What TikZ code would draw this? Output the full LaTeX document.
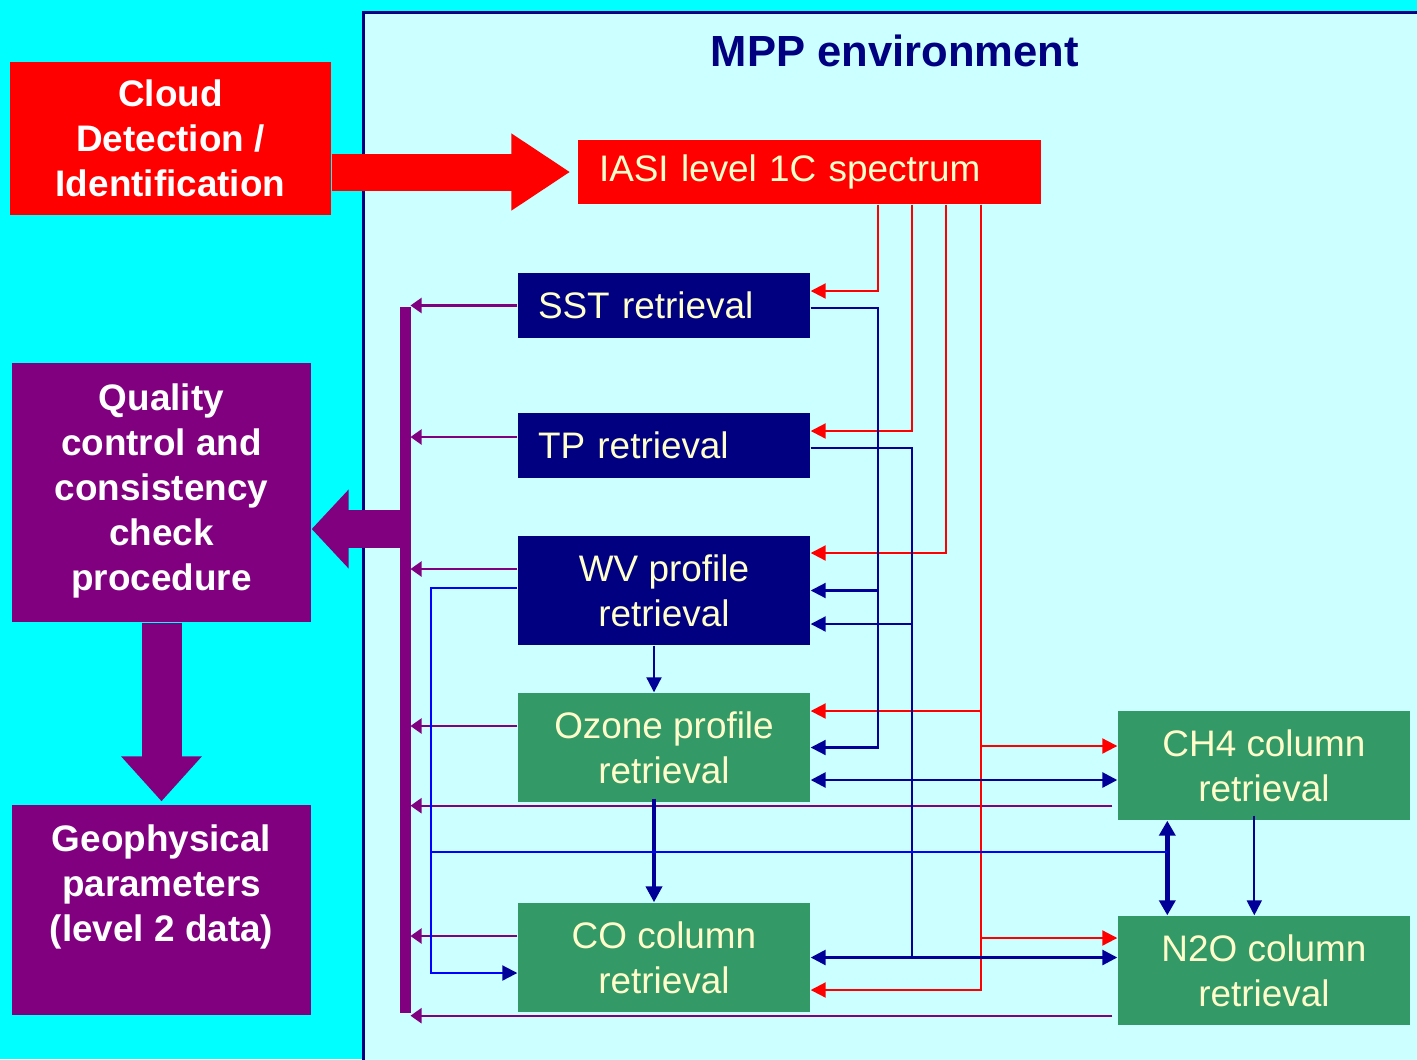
\documentclass[tikz,border=0pt]{standalone}
\usepackage{fontspec}
\setmainfont{Liberation Sans}
\usetikzlibrary{arrows.meta}
\definecolor{aqua}{HTML}{00FFFF}
\definecolor{paleaqua}{HTML}{CCFFFF}
\definecolor{navyblue}{HTML}{000080}
\definecolor{seagreen}{HTML}{339966}
\definecolor{plum}{HTML}{800080}
\definecolor{cream}{HTML}{FFFFCC}
\definecolor{linkblue}{HTML}{000099}
\definecolor{brightblue}{HTML}{0000FF}
\begin{document}
\begin{tikzpicture}[
    font=\fontsize{10.5}{12.8}\selectfont,
    navybox/.style={fill=navyblue, text=cream, minimum width=2.92cm, inner ysep=0pt},
    greenbox/.style={fill=seagreen, text=cream, minimum width=2.92cm, minimum height=1.09cm, align=center, inner sep=0pt},
    sidebox/.style={fill=plum, text=white, font=\fontsize{10.5}{12.8}\selectfont\bfseries, minimum width=2.99cm, align=center, inner sep=0pt},
    redlink/.style={red, line width=0.6pt, -{Triangle[length=0.15cm, width=0.15cm]}},
    bluelink/.style={linkblue, line width=0.6pt, -{Triangle[length=0.15cm, width=0.15cm]}},
    bluedouble/.style={linkblue, line width=0.8pt, {Triangle[length=0.15cm, width=0.15cm]}-{Triangle[length=0.15cm, width=0.15cm]}},
    plumlink/.style={plum, line width=0.6pt, -{Triangle[length=0.11cm, width=0.15cm]}},
    bigred/.style={red, line width=0.37cm, -{Triangle[length=0.59cm, width=0.73cm]}},
    bigplum/.style={plum, line width=0.38cm, -{Triangle[length=0.37cm, width=0.77cm]}}
]
\useasboundingbox (0,0) rectangle (14.17,-10.59);
\fill[aqua] (0,0) rectangle (14.17,-10.59);
\draw[navyblue, line width=0.03cm, fill=paleaqua] (3.63,-0.12) rectangle (14.5,-10.8);

\node[text=navyblue, font=\fontsize{12.4}{15}\selectfont\bfseries] (title) at (8.95,-0.51) {MPP environment};

\node[fill=red, text=white, font=\fontsize{10.5}{12.8}\selectfont\bfseries, minimum width=3.21cm, minimum height=1.53cm, align=center, inner sep=0pt] (cloud) at (1.705,-1.385) {Cloud\\Detection /\\Identification};
\node[fill=red, text=cream, text width=4.21cm, inner xsep=0.21cm, inner ysep=0pt, minimum height=0.64cm, align=left] (iasi) at (8.095,-1.72) {IASI level 1C spectrum};

\node[navybox, text width=2.52cm, inner xsep=0.2cm, minimum height=0.65cm, align=left] (sst) at (6.64,-3.055) {SST retrieval};
\node[navybox, text width=2.52cm, inner xsep=0.2cm, minimum height=0.65cm, align=left] (tp) at (6.64,-4.455) {TP retrieval};
\node[navybox, inner xsep=0pt, minimum height=1.09cm, align=center] (wv) at (6.64,-5.905) {WV profile\\retrieval};
\node[greenbox] (ozone) at (6.64,-7.475) {Ozone profile\\retrieval};
\node[greenbox] (co) at (6.64,-9.575) {CO column\\retrieval};
\node[greenbox] (ch4) at (12.64,-7.655) {CH4 column\\retrieval};
\node[greenbox] (n2o) at (12.64,-9.705) {N2O column\\retrieval};

\node[sidebox, minimum height=2.59cm] (quality) at (1.615,-4.925) {Quality\\control and\\consistency\\check\\procedure\rule[-0.1cm]{0pt}{0.1cm}};
\node[sidebox, minimum height=2.10cm] (geo) at (1.615,-9.10) {Geophysical\\parameters\\(level 2 data)\rule[-0.54cm]{0pt}{0.54cm}};

% big arrows
\draw[bigred] (cloud.east |- iasi.west) -- ([xshift=-0.07cm]iasi.west);
\coordinate (qin) at (4.10,-5.29);
\draw[bigplum] (qin) -- (qin -| quality.east);
\draw[plum, line width=0.40cm, -{Triangle[length=0.45cm, width=0.78cm]}] (quality.south) -- ([yshift=0.03cm]geo.north);

% purple bus
\coordinate (bus) at (4.05,-3.07);
\coordinate (busend) at (4.05,-10.13);
\coordinate (busedge) at (4.105,-3.07);
\draw[plum, line width=0.11cm] (bus) -- (busend);
\draw[plumlink] (sst.west) -- (sst.west -| busedge);
\draw[plumlink] ([yshift=0.085cm]tp.west) -- ([yshift=0.085cm]tp.west -| busedge);
\draw[plumlink] ([yshift=0.215cm]wv.west) -- ([yshift=0.215cm]wv.west -| busedge);
\draw[plumlink] ([yshift=0.215cm]ozone.west) -- ([yshift=0.215cm]ozone.west -| busedge);
\draw[plumlink] ([yshift=0.215cm]co.west) -- ([yshift=0.215cm]co.west -| busedge);
\coordinate (ch4out) at ([shift={(-0.05,0.15)}]ch4.south west);
\coordinate (n2oout) at ([shift={(-0.05,0.10)}]n2o.south west);
\draw[plumlink] (ch4out) -- (ch4out -| busedge);
\draw[plumlink] (n2oout) -- (n2oout -| busedge);

% ports
\coordinate (r1) at (8.78,0);
\coordinate (r2) at (9.12,0);
\coordinate (r3) at (9.46,0);
\coordinate (r4) at (9.81,0);
\coordinate (b0) at (4.31,0);
\coordinate (sstred) at ([yshift=0.145cm]sst.east);
\coordinate (sstblue) at ([yshift=-0.025cm]sst.east);
\coordinate (tpred) at ([yshift=0.145cm]tp.east);
\coordinate (tpblue) at ([yshift=-0.025cm]tp.east);
\coordinate (wvred) at ([yshift=0.375cm]wv.east);
\coordinate (wvin) at ([yshift=-0.335cm]wv.east);
\coordinate (wvout) at ([yshift=0.025cm]wv.west);
\coordinate (ozred) at ([yshift=0.365cm]ozone.east);
\coordinate (ozlink) at ([yshift=-0.325cm]ozone.east);
\coordinate (cored) at ([yshift=-0.325cm]co.east);
\coordinate (coin) at ([yshift=-0.155cm]co.west);
\coordinate (ch4red) at ([yshift=0.195cm]ch4.west);
\coordinate (n2ored) at ([yshift=0.325cm]n2o.west);
\coordinate (jn) at ([xshift=0.5cm,yshift=-0.31cm]ch4.south west);

% red links
\draw[redlink] (r1 |- iasi.south) |- (sstred);
\draw[redlink] (r2 |- iasi.south) |- (tpred);
\draw[redlink] (r3 |- iasi.south) |- (wvred);
\draw[redlink] (r4 |- iasi.south) |- (cored);
\draw[redlink] (r4 |- ozred) -- (ozred);
\draw[redlink] (r4 |- ch4red) -- (ch4red);
\draw[redlink] (r4 |- n2ored) -- (n2ored);

% blue links
\draw[bluelink] (sstblue) -| (r1 |- ozone.east) -- (ozone.east);
\draw[bluelink] (r1 |- wv.east) -- (wv.east);
\draw[linkblue, line width=0.6pt] (tpblue) -| (r2 |- co.east);
\draw[bluelink] (r2 |- wvin) -- (wvin);
\draw[bluedouble] (ozlink) -- (ozlink -| ch4.west);
\draw[bluedouble] (co.east) -- (co.east -| n2o.west);
\draw[bluelink] ([xshift=-0.1cm]wv.south) -- ([xshift=-0.1cm]ozone.north);
\draw[linkblue, line width=1.1pt, -{Triangle[length=0.16cm, width=0.16cm]}] ([xshift=-0.1cm,yshift=0.04cm]ozone.south) -- ([xshift=-0.1cm]co.north);
\draw[linkblue, line width=1.4pt, {Triangle[length=0.15cm, width=0.16cm]}-{Triangle[length=0.15cm, width=0.16cm]}] ([xshift=0.5cm]ch4.south west) -- ([xshift=0.5cm]n2o.north west);
\draw[bluelink] ([xshift=1.37cm,yshift=0.05cm]ch4.south west) -- ([xshift=1.37cm]n2o.north west);
\draw[brightblue, line width=0.6pt, -{Triangle[length=0.15cm, width=0.15cm, color=linkblue]}] (wvout) -| (b0 |- coin) -- (coin);
\draw[brightblue, line width=0.6pt] (b0 |- jn) -- (jn);
\end{tikzpicture}
\end{document}
